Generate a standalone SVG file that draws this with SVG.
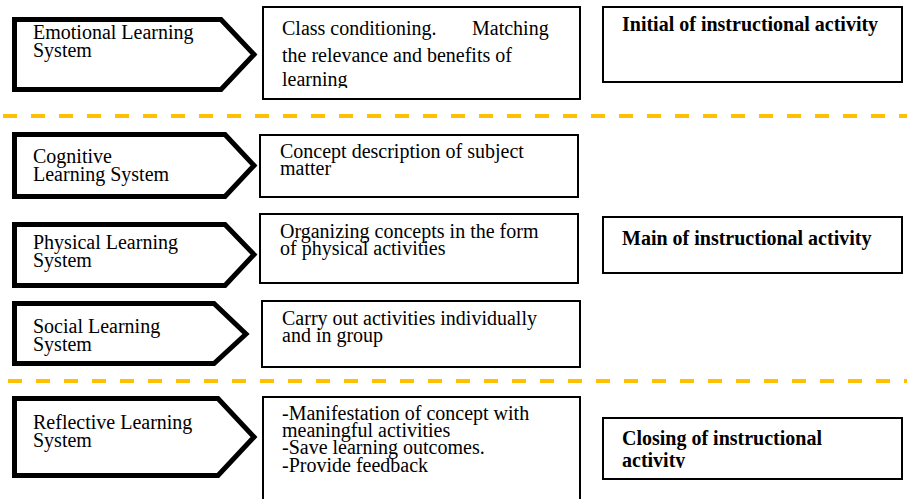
<svg xmlns="http://www.w3.org/2000/svg" width="907" height="499" viewBox="0 0 907 499">
<style>
.arrow{fill:#fff;stroke:#000;stroke-width:5;stroke-linejoin:miter}
.box{fill:#fff;stroke:#000;stroke-width:2}
.t{font-size:20px;fill:#000}
.b{font-size:20px;font-weight:bold;fill:#000}
.dash{stroke:#FFC000;stroke-width:4;stroke-dasharray:14 14;fill:none}
</style>
<defs>
<clipPath id="clipClass"><rect x="263" y="7" width="317" height="81"/></clipPath>
<clipPath id="clipClosing"><rect x="603" y="418" width="299" height="50"/></clipPath>
</defs>
<g id="separators">
<line class="dash" x1="3" y1="116" x2="907" y2="116"/>
<line class="dash" x1="8" y1="381" x2="907" y2="381"/>
</g>
<g font-family="Liberation Serif, Times New Roman, serif">
<g id="emotional">
<polygon class="arrow" points="14.5,19.5 221,19.5 254,54.5 221,89.5 14.5,89.5"/>
<text class="t" x="33" y="39">Emotional Learning</text>
<text class="t" x="33" y="57">System</text>
</g>
<g id="class-conditioning">
<rect class="box" x="263" y="7" width="317" height="92"/>
<g clip-path="url(#clipClass)">
<text class="t" x="282" y="35">Class conditioning.</text>
<text class="t" x="472" y="35">Matching</text>
<text class="t" x="282" y="62">the relevance and benefits of</text>
<text class="t" x="282" y="86">learning</text>
</g>
</g>
<g id="initial">
<rect class="box" x="603" y="7" width="299" height="75"/>
<text class="b" x="622" y="31">Initial of instructional activity</text>
</g>
<g id="cognitive">
<polygon class="arrow" points="14.5,134.5 225,134.5 254,165.5 225,196.5 14.5,196.5"/>
<text class="t" x="33" y="163">Cognitive</text>
<text class="t" x="33" y="181">Learning System</text>
</g>
<g id="concept">
<rect class="box" x="260" y="135" width="318" height="62"/>
<text class="t" x="280" y="158">Concept description of subject</text>
<text class="t" x="280" y="175">matter</text>
</g>
<g id="physical">
<polygon class="arrow" points="14.5,224.5 225,224.5 254,254.5 225,285.5 14.5,285.5"/>
<text class="t" x="33" y="249">Physical Learning</text>
<text class="t" x="33" y="267">System</text>
</g>
<g id="organizing">
<rect class="box" x="260" y="214" width="318" height="69"/>
<text class="t" x="280" y="238">Organizing concepts in the form</text>
<text class="t" x="280" y="255">of physical activities</text>
</g>
<g id="main">
<rect class="box" x="603" y="217" width="299" height="56"/>
<text class="b" x="622" y="245">Main of instructional activity</text>
</g>
<g id="social">
<polygon class="arrow" points="14.5,303.5 214,303.5 246,334 214,363.5 14.5,363.5"/>
<text class="t" x="33" y="333">Social Learning</text>
<text class="t" x="33" y="351">System</text>
</g>
<g id="carry-out">
<rect class="box" x="262" y="301" width="318" height="66"/>
<text class="t" x="282" y="325">Carry out activities individually</text>
<text class="t" x="282" y="342">and in group</text>
</g>
<g id="reflective">
<polygon class="arrow" points="14.5,398.5 218,398.5 254,437 218,475.5 14.5,475.5"/>
<text class="t" x="33" y="429">Reflective Learning</text>
<text class="t" x="33" y="447">System</text>
</g>
<g id="manifestation">
<rect class="box" x="263" y="397" width="317" height="110"/>
<text class="t" x="282" y="420">-Manifestation of concept with</text>
<text class="t" x="282" y="437">meaningful activities</text>
<text class="t" x="282" y="454">-Save learning outcomes.</text>
<text class="t" x="282" y="472">-Provide feedback</text>
</g>
<g id="closing">
<rect class="box" x="603" y="418" width="299" height="61"/>
<g clip-path="url(#clipClosing)">
<text class="b" x="622" y="445">Closing of instructional</text>
<text class="b" x="622" y="467">activity</text>
</g>
</g>
</g>
<g id="connectors"></g>
</svg>
